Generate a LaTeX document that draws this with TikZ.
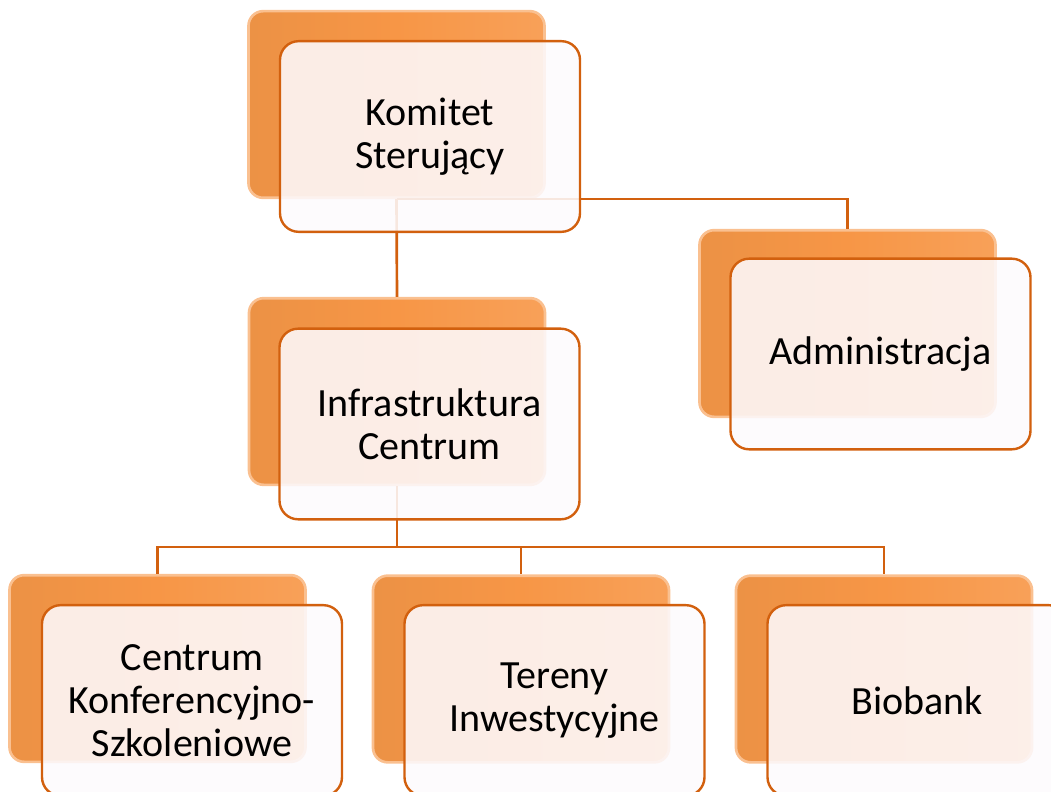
\documentclass[tikz,border=0pt]{standalone}
\usepackage{fontspec}
\setmainfont{Carlito}
\usetikzlibrary{
  positioning
}
\definecolor{orangish}{RGB}{247,150,70}
\definecolor{darkorange}{RGB}{210,96,14}
\definecolor{paleface}{RGB}{253,250,253}

\begin{document}
\begin{tikzpicture}[
  x=0.75pt,
  y=-0.75pt,
  backbox/.style={
    rectangle,
    rounded corners=11pt,
    draw=orangish!60!white,
    line width=2pt,
    left color=orangish!80!brown,
    right color=orangish!90!white,
    middle color=orangish,
    minimum width=222pt,
    minimum height=140pt,
    inner sep=0pt,
  },
  frontbox/.style={
    rectangle,
    rounded corners=14pt,
    draw=darkorange,
    line width=1.8pt,
    fill=paleface,
    fill opacity=0.88,
    text opacity=1,
    minimum width=225pt,
    minimum height=143pt,
    inner sep=0pt,
    align=center,
    font=\fontsize{30}{32}\selectfont,
  },
  link/.style={
    draw=darkorange,
    line width=2pt,
  }
]
\useasboundingbox (0,0) rectangle (1051,792);
\clip (0,0) rectangle (1051,792);

% Back boxes
\node[backbox] (komb) at (396.5,104.5) {};
\node[backbox] (admb) at (847.5,323.5) {};
\node[backbox] (infb) at (397,391.5) {};
\node[backbox] (ckb)  at (157.5,668.5) {};
\node[backbox] (terb) at (521,669) {};
\node[backbox] (biob) at (884,669) {};

% Links
\coordinate (split) at (397,547);
\draw[link] (komb.south) -| (admb.north);
\draw[link] (komb.south) -- (infb.north);
\draw[link] (infb.south) -- (split);
\draw[link] (split) -| (ckb.north);
\draw[link] (split) -| (terb.north);
\draw[link] (split) -| (biob.north);

% Front boxes
\node[frontbox] (kom) at (430,136.5) {Komitet\\Sterujący};
\node[frontbox] (adm) at (880.5,354) {Administracja};
\node[frontbox] (inf) at (429.5,424) {Infrastruktura\\Centrum};
\node[frontbox] (ck)  at (192,700.5) {Centrum\\Konferencyjno-\\Szkoleniowe};
\node[frontbox] (ter) at (554.5,700.5) {Tereny\\Inwestycyjne};
\node[frontbox] (bio) at (917.5,700.5) {Biobank};

\end{tikzpicture}
\end{document}
